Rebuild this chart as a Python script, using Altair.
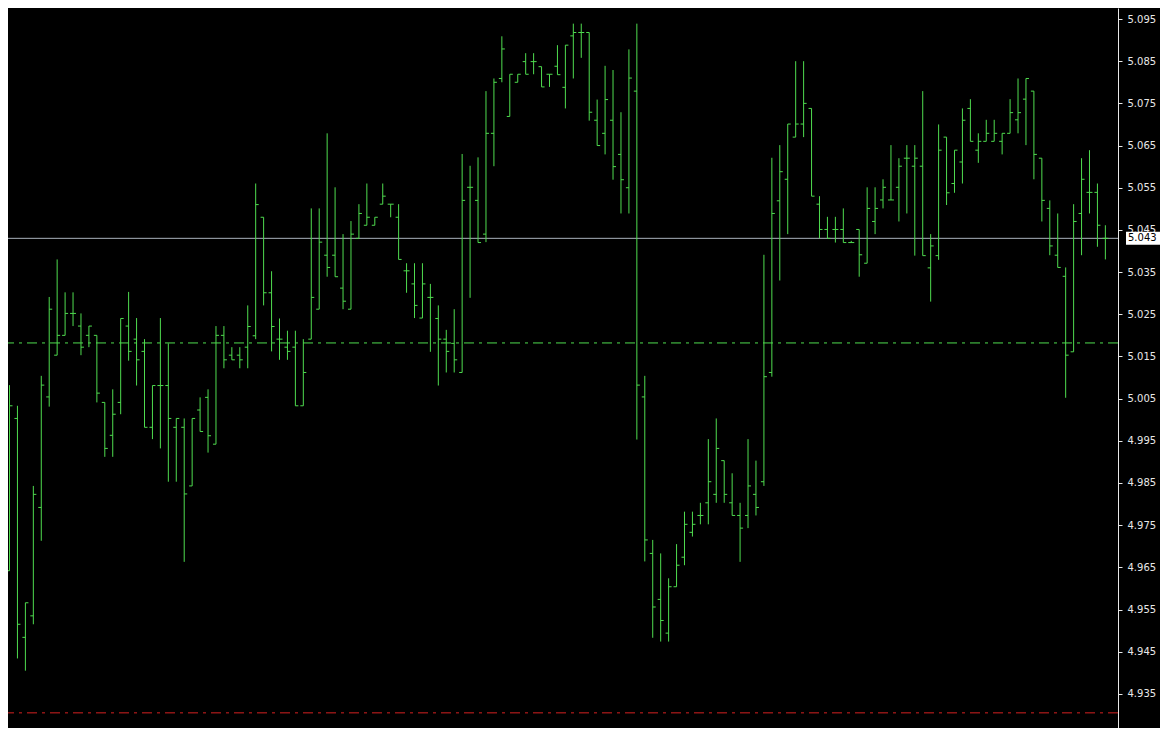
import altair as alt
import pandas as pd

opens = [4.9642, 5.0003, 4.9484, 4.9535, 4.9792, 5.0054, 5.0153, 5.0200, 5.0252, 5.0222,
         5.0200, 5.0200, 5.0041, 4.9963, 5.0041, 5.0222, 5.0191, 5.0162, 4.9982, 5.0081,
         5.0081, 4.9982, 4.9982, 4.9843, 5.0023, 5.0053, 4.9942, 5.0200, 5.0153, 5.0153,
         5.0172, 5.0199, 5.0480, 5.0301, 5.0191, 5.0172, 5.0172, 5.0033, 5.0191, 5.0262,
         5.0390, 5.0390, 5.0312, 5.0262, 5.0430, 5.0461, 5.0461, 5.0511, 5.0511, 5.0480,
         5.0353, 5.0322, 5.0241, 5.0290, 5.0240, 5.0191, 5.0181, 5.0112, 5.0551, 5.0520,
         5.0440, 5.0679, 5.0809, 5.0719, 5.0800, 5.0849, 5.0849, 5.0837, 5.0819, 5.0838,
         5.0788, 5.0910, 5.0918, 5.0918, 5.0710, 5.0679, 5.0710, 5.0629, 5.0550, 5.0779,
         5.0054, 4.9683, 4.9574, 4.9494, 4.9604, 4.9674, 4.9733, 4.9773, 4.9803, 4.9823,
         4.9903, 4.9803, 4.9773, 4.9773, 4.9823, 4.9853, 5.0112, 5.0519, 5.0570, 5.0670,
         5.0701, 5.0738, 5.0511, 5.0451, 5.0451, 5.0451, 5.0420, 5.0451, 5.0371, 5.0470,
         5.0521, 5.0521, 5.0551, 5.0620, 5.0601, 5.0601, 5.0360, 5.0389, 5.0670, 5.0560,
         5.0611, 5.0738, 5.0639, 5.0660, 5.0660, 5.0660, 5.0679, 5.0711, 5.0760, 5.0779,
         5.0620, 5.0501, 5.0390, 5.0340, 5.0161, 5.0489, 5.0539, 5.0539, 5.0430]
highs = [5.0082, 5.0033, 4.9566, 4.9843, 5.0104, 5.0291, 5.0380, 5.0302, 5.0302, 5.0252,
         5.0222, 5.0200, 5.0041, 5.0072, 5.0240, 5.0303, 5.0241, 5.0191, 5.0081, 5.0241,
         5.0181, 5.0003, 5.0003, 5.0003, 5.0053, 5.0072, 5.0222, 5.0222, 5.0172, 5.0172,
         5.0271, 5.0560, 5.0480, 5.0352, 5.0240, 5.0211, 5.0211, 5.0191, 5.0501, 5.0501,
         5.0679, 5.0551, 5.0440, 5.0471, 5.0511, 5.0560, 5.0480, 5.0560, 5.0511, 5.0511,
         5.0371, 5.0371, 5.0371, 5.0322, 5.0271, 5.0213, 5.0262, 5.0630, 5.0602, 5.0622,
         5.0779, 5.0809, 5.0909, 5.0819, 5.0819, 5.0869, 5.0869, 5.0837, 5.0819, 5.0888,
         5.0888, 5.0939, 5.0939, 5.0918, 5.0759, 5.0839, 5.0829, 5.0729, 5.0878, 5.0939,
         5.0104, 4.9715, 4.9683, 4.9624, 4.9705, 4.9782, 4.9782, 4.9803, 4.9954, 5.0003,
         4.9903, 4.9873, 4.9803, 4.9954, 4.9903, 5.0391, 5.0621, 5.0651, 5.0701, 5.0850,
         5.0850, 5.0738, 5.0530, 5.0481, 5.0481, 5.0501, 5.0424, 5.0451, 5.0551, 5.0551,
         5.0570, 5.0651, 5.0620, 5.0651, 5.0651, 5.0779, 5.0440, 5.0700, 5.0670, 5.0639,
         5.0738, 5.0760, 5.0679, 5.0711, 5.0711, 5.0679, 5.0760, 5.0809, 5.0809, 5.0779,
         5.0620, 5.0520, 5.0489, 5.0361, 5.0511, 5.0620, 5.0639, 5.0560, 5.0461]
lows = [4.9642, 4.9434, 4.9405, 4.9515, 4.9713, 5.0031, 5.0153, 5.0200, 5.0222, 5.0153,
        5.0172, 5.0041, 4.9912, 4.9912, 5.0013, 5.0140, 5.0081, 4.9982, 4.9954, 4.9932,
        4.9853, 4.9853, 4.9663, 4.9843, 4.9972, 4.9922, 4.9942, 5.0122, 5.0142, 5.0122,
        5.0122, 5.0191, 5.0271, 5.0162, 5.0142, 5.0142, 5.0033, 5.0033, 5.0191, 5.0262,
        5.0339, 5.0339, 5.0262, 5.0262, 5.0430, 5.0461, 5.0461, 5.0511, 5.0480, 5.0380,
        5.0301, 5.0241, 5.0241, 5.0161, 5.0081, 5.0112, 5.0112, 5.0112, 5.0289, 5.0420,
        5.0421, 5.0601, 5.0800, 5.0719, 5.0800, 5.0819, 5.0819, 5.0789, 5.0789, 5.0818,
        5.0738, 5.0809, 5.0858, 5.0709, 5.0650, 5.0629, 5.0569, 5.0489, 5.0489, 4.9953,
        4.9664, 4.9483, 4.9474, 4.9474, 4.9604, 4.9655, 4.9723, 4.9752, 4.9752, 4.9803,
        4.9803, 4.9773, 4.9663, 4.9743, 4.9773, 4.9843, 5.0102, 5.0330, 5.0440, 5.0670,
        5.0670, 5.0530, 5.0430, 5.0430, 5.0420, 5.0420, 5.0419, 5.0339, 5.0371, 5.0440,
        5.0501, 5.0521, 5.0470, 5.0489, 5.0389, 5.0389, 5.0280, 5.0379, 5.0509, 5.0538,
        5.0560, 5.0660, 5.0609, 5.0660, 5.0660, 5.0629, 5.0679, 5.0679, 5.0651, 5.0570,
        5.0470, 5.0390, 5.0361, 5.0052, 5.0161, 5.0390, 5.0489, 5.0410, 5.0380]
closes = [5.0033, 4.9515, 4.9566, 4.9823, 5.0082, 5.0262, 5.0200, 5.0252, 5.0252, 5.0172,
          5.0222, 5.0063, 4.9932, 5.0013, 5.0240, 5.0162, 5.0142, 4.9982, 5.0081, 5.0081,
          5.0003, 5.0003, 4.9824, 5.0003, 4.9972, 4.9962, 5.0200, 5.0142, 5.0142, 5.0142,
          5.0221, 5.0510, 5.0301, 5.0221, 5.0191, 5.0162, 5.0033, 5.0112, 5.0290, 5.0421,
          5.0361, 5.0339, 5.0281, 5.0440, 5.0489, 5.0480, 5.0480, 5.0530, 5.0511, 5.0380,
          5.0353, 5.0271, 5.0322, 5.0290, 5.0191, 5.0162, 5.0142, 5.0520, 5.0551, 5.0420,
          5.0679, 5.0800, 5.0879, 5.0819, 5.0819, 5.0819, 5.0849, 5.0789, 5.0819, 5.0818,
          5.0888, 5.0918, 5.0918, 5.0729, 5.0650, 5.0759, 5.0600, 5.0569, 5.0810, 5.0082,
          4.9715, 4.9556, 4.9524, 4.9604, 4.9655, 4.9752, 4.9752, 4.9773, 4.9853, 4.9932,
          4.9823, 4.9773, 4.9743, 4.9843, 4.9792, 5.0102, 5.0489, 5.0588, 5.0701, 5.0701,
          5.0750, 5.0530, 5.0451, 5.0430, 5.0451, 5.0420, 5.0420, 5.0391, 5.0501, 5.0501,
          5.0551, 5.0521, 5.0601, 5.0620, 5.0620, 5.0389, 5.0412, 5.0639, 5.0538, 5.0639,
          5.0710, 5.0660, 5.0660, 5.0679, 5.0679, 5.0679, 5.0728, 5.0728, 5.0809, 5.0629,
          5.0520, 5.0412, 5.0361, 5.0153, 5.0470, 5.0570, 5.0539, 5.0461, 5.0430]

axis_ticks = [4.925, 4.935, 4.945, 4.955, 4.965, 4.975, 4.985, 4.995, 5.005, 5.015,
              5.025, 5.035, 5.045, 5.055, 5.065, 5.075, 5.085, 5.095]
bid_price = 5.043
green_level = 5.0182
red_level = 4.9305

BAR = "#4fdc4f"
W, H = 1110, 720

df = pd.DataFrame({"i": list(range(len(opens))), "open": opens, "high": highs,
                   "low": lows, "close": closes})

xs = alt.Scale(domain=[-0.19, 139.59], nice=False, zero=False)
ys = alt.Scale(domain=[4.92691, 5.09761], nice=False, zero=False)

base = alt.Chart(df)
hl = base.mark_rule(color=BAR, strokeWidth=1).encode(
    x=alt.X("i:Q", scale=xs, axis=None),
    y=alt.Y("low:Q", scale=ys, axis=alt.Axis(
        orient="right", values=axis_ticks, format=".3f", title=None, grid=False,
        labelColor="#e8e8e8", labelFont="DejaVu Sans", labelFontSize=10,
        tickColor="#e8e8e8", tickSize=4, labelPadding=5, domainColor="#e8e8e8",
        domainWidth=1, labelFlush=False, labelOverlap=False)),
    y2="high:Q",
)
op = base.mark_rule(color=BAR, strokeWidth=1, xOffset=-3, x2Offset=0).encode(
    x=alt.X("i:Q", scale=xs), x2="i:Q", y=alt.Y("open:Q", scale=ys))
cl = base.mark_rule(color=BAR, strokeWidth=1, xOffset=0, x2Offset=3).encode(
    x=alt.X("i:Q", scale=xs), x2="i:Q", y=alt.Y("close:Q", scale=ys))

bid = alt.Chart(pd.DataFrame({"v": [bid_price]})).mark_rule(
    color="#a9b1bb", strokeWidth=1).encode(y=alt.Y("v:Q", scale=ys))
grn = alt.Chart(pd.DataFrame({"v": [green_level]})).mark_rule(
    color=BAR, strokeWidth=1, strokeDash=[10, 5, 3, 5]).encode(y=alt.Y("v:Q", scale=ys))
red = alt.Chart(pd.DataFrame({"v": [red_level]})).mark_rule(
    color="#d42020", strokeWidth=1, strokeDash=[10, 5, 3, 5]).encode(y=alt.Y("v:Q", scale=ys))

lbl_df = pd.DataFrame({"v": [bid_price], "t": [f"{bid_price:.3f}"]})
box = alt.Chart(lbl_df).mark_rect(color="white", yOffset=-6.5, y2Offset=6.5).encode(
    x=alt.value(W + 8), x2=alt.value(W + 42),
    y=alt.Y("v:Q", scale=ys), y2="v:Q")
txt = alt.Chart(lbl_df).mark_text(
    color="black", font="DejaVu Sans", fontSize=10, align="left", baseline="middle",
    dx=2).encode(x=alt.value(W + 8), y=alt.Y("v:Q", scale=ys), text="t:N")

chart = alt.layer(grn, red, bid, hl, op, cl, box, txt).properties(
    width=W, height=H,
    autosize=alt.AutoSizeParams(type="none"),
    padding={"left": 0, "top": 0, "right": 42, "bottom": 0},
    background="black",
).configure_view(strokeWidth=0)

chart.save("out.html", embed_options={"renderer": "svg", "actions": False})
